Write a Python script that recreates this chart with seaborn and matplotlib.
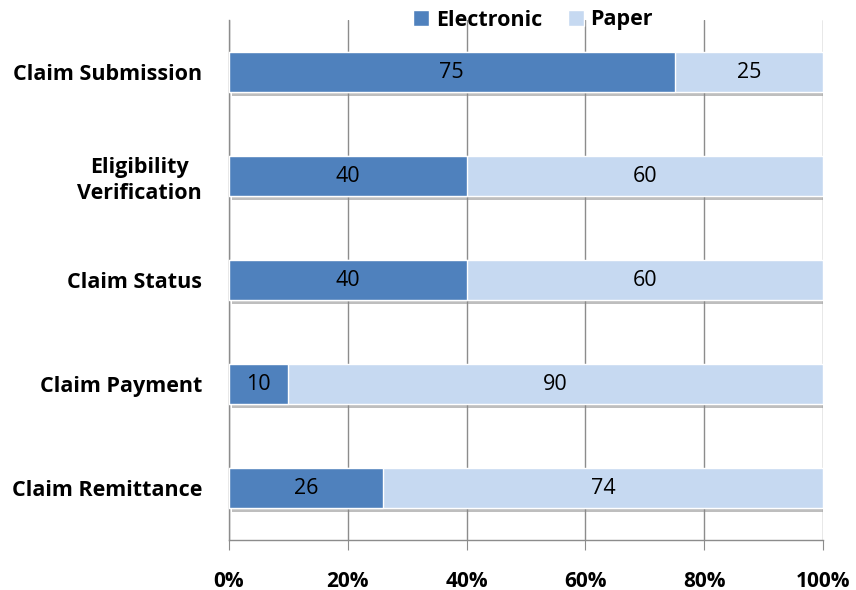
import matplotlib
matplotlib.use("Agg")
import matplotlib.pyplot as plt
import matplotlib.patheffects as pe
from matplotlib.patches import Patch
import seaborn as sns
import pandas as pd

categories = ["Claim Submission", "Eligibility\nVerification", "Claim Status",
              "Claim Payment", "Claim Remittance"]
electronic = [75, 40, 40, 10, 26]
paper = [25, 60, 60, 90, 74]
xtick_vals = [0, 20, 40, 60, 80, 100]
xtick_labels = ["0%", "20%", "40%", "60%", "80%", "100%"]

c_elec = "#4F81BD"
c_paper = "#C6D9F1"

sns.set_style("white")
plt.rcParams["font.family"] = ["Open Sans", "DejaVu Sans"]
plt.rcParams["text.color"] = "black"
plt.rcParams["xtick.labelcolor"] = "black"
plt.rcParams["ytick.labelcolor"] = "black"

df = pd.DataFrame({"cat": categories, "Electronic": electronic, "Paper": paper})
df["Total"] = df["Electronic"] + df["Paper"]

fig = plt.figure(figsize=(8.56, 5.90), dpi=100)
ax = fig.add_axes([229/856, 1-540/590, (823-229)/856, (540-20)/590])

shadow = [pe.SimplePatchShadow(offset=(2, -3), shadow_rgbFace="#8a8a8a", alpha=0.55), pe.Normal()]

sns.barplot(data=df, y="cat", x="Total", color=c_paper, orient="h", width=0.39,
            ax=ax, saturation=1, zorder=3)
sns.barplot(data=df, y="cat", x="Electronic", color=c_elec, orient="h", width=0.39,
            ax=ax, saturation=1, zorder=4)
for p in ax.containers[0]:
    p.set_path_effects(shadow)

for i, (e, p) in enumerate(zip(electronic, paper)):
    ax.text(e / 2, i, str(e), ha="center", va="center", fontsize=15.5, color="black", zorder=6)
    ax.text(e + p / 2, i, str(p), ha="center", va="center", fontsize=15.5, color="black", zorder=6)

ax.set_xlim(0, 100)
ax.set_ylim(4.5, -0.5)
ax.set_xticks(xtick_vals)
ax.set_xticklabels(xtick_labels, fontsize=15, fontweight="bold", color="black")
ax.set_yticks(range(len(categories)))
ax.set_yticklabels(categories, fontsize=15.5, fontweight="bold", multialignment="center",
                   linespacing=1.3, color="black")
ax.set_xlabel("")
ax.set_ylabel("")
ax.xaxis.grid(True, color="#8c8c8c", linewidth=1.0, zorder=0)
ax.set_axisbelow(True)
for s in ["top", "right"]:
    ax.spines[s].set_visible(False)
for s in ["left", "bottom"]:
    ax.spines[s].set_color("#8c8c8c")
    ax.spines[s].set_linewidth(1.0)
ax.tick_params(axis="x", which="both", bottom=True, length=7, color="#8c8c8c", pad=15)
ax.tick_params(axis="y", which="both", left=False, pad=16)

handles = [Patch(facecolor=c_elec, label="Electronic"), Patch(facecolor=c_paper, label="Paper")]
leg = ax.legend(handles=handles, loc="center", bbox_to_anchor=(0.512, 1.0), ncol=2, frameon=False,
                prop={"weight": "bold", "size": 15.5}, handlelength=0.75, handleheight=0.75,
                handletextpad=0.3, columnspacing=1.2)
for t in leg.get_texts():
    t.set_color("black")

fig.savefig("out.png", dpi=100, facecolor="white")
